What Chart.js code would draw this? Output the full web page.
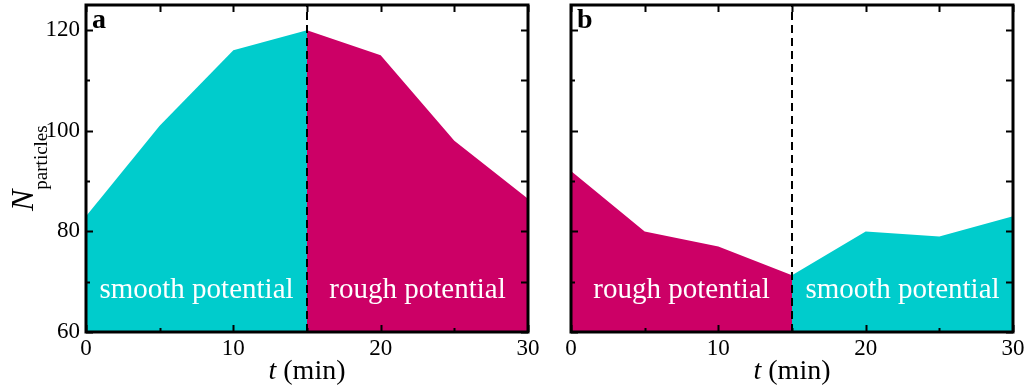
<!DOCTYPE html>
<html>
<head>
<meta charset="utf-8">
<script src="https://cdn.jsdelivr.net/npm/chart.js@4.4.1/dist/chart.umd.min.js"></script>
<style>
html, body { margin: 0; padding: 0; background: #fff; }
.panel { position: absolute; top: 0; height: 387px; }
#wrapA { left: 0; width: 540px; }
#wrapB { left: 540px; width: 489px; }
</style>
</head>
<body>
<div class="panel" id="wrapA"><canvas id="chartA"></canvas></div>
<div class="panel" id="wrapB"><canvas id="chartB"></canvas></div>
<script>
// particle counts sampled every 5 min, potential switched at t = 15
var times = [0, 5, 10, 15, 20, 25, 30];
var countsA = [83, 101, 116, 120, 115, 98, 86.5];
var countsB = [92, 80, 77, 71.3, 80, 79, 83];
var switchTime = 15;
var xTicks = [0, 10, 20, 30];
var yTicks = [60, 80, 100, 120];
var yRange = [60, 125];

var CYAN = '#00cccc';
var MAGENTA = '#cc0066';
var SERIF = '"Liberation Serif", "Times New Roman", serif';

function points(counts, from, to) {
    var out = [];
    for (var i = 0; i < times.length; i++) {
        if (times[i] >= from && times[i] <= to) out.push({x: times[i], y: counts[i]});
    }
    return out;
}

// frame, inward ticks, panel letter, region names and axis titles
var decorPlugin = {
    id: 'decor',
    afterDraw: function(chart) {
        var o = chart.options.plugins.decor;
        var ctx = chart.ctx, a = chart.chartArea;
        var xs = chart.scales.x, ys = chart.scales.y;
        var xm = xs.getPixelForValue(switchTime);
        ctx.save();

        ctx.fillStyle = '#fff';
        ctx.font = '29px ' + SERIF;
        ctx.textAlign = 'center';
        ctx.textBaseline = 'alphabetic';
        ctx.fillText(o.leftText, (a.left + xm) / 2, a.bottom - 34);
        ctx.fillText(o.rightText, (xm + a.right) / 2, a.bottom - 34);

        ctx.strokeStyle = '#000';
        ctx.lineWidth = 2;
        ctx.beginPath();
        for (var v = yRange[0]; v <= yRange[1]; v += 10) {
            var y = Math.round(ys.getPixelForValue(v)) + 0.5;
            var len = (v % 20 === 0) ? 7 : 4;
            ctx.moveTo(a.left, y); ctx.lineTo(a.left + len, y);
            ctx.moveTo(a.right, y); ctx.lineTo(a.right - 7, y);
        }
        for (var t = 0; t <= 30; t += 5) {
            var x = Math.round(xs.getPixelForValue(t)) + 0.5;
            var l = (t % 10 === 0) ? 7 : 4;
            ctx.moveTo(x, a.bottom); ctx.lineTo(x, a.bottom - l);
            ctx.moveTo(x, a.top); ctx.lineTo(x, a.top + 7);
        }
        ctx.stroke();

        ctx.lineWidth = 3;
        ctx.strokeRect(a.left, a.top, a.right - a.left, a.bottom - a.top);

        ctx.fillStyle = '#000';
        ctx.textAlign = 'left';
        ctx.font = 'bold 28px ' + SERIF;
        ctx.fillText(o.letter, a.left + 6, a.top + 23);

        // x title: italic t, upright (min)
        var cx = (a.left + a.right) / 2;
        ctx.font = 'italic 28px ' + SERIF;
        var w1 = ctx.measureText('t').width;
        ctx.font = '28px ' + SERIF;
        var w2 = ctx.measureText(' (min)').width;
        var sx = cx - (w1 + w2) / 2;
        ctx.font = 'italic 28px ' + SERIF;
        ctx.fillText('t', sx, 379);
        ctx.font = '28px ' + SERIF;
        ctx.fillText(' (min)', sx + w1, 379);

        if (o.yTitle) {
            ctx.translate(33, 211);
            ctx.rotate(-Math.PI / 2);
            ctx.font = 'italic 32px ' + SERIF;
            ctx.fillText('N', 0, 0);
            var wn = ctx.measureText('N').width;
            ctx.font = '19px ' + SERIF;
            ctx.fillText('particles', wn, 14);
        }
        ctx.restore();
    }
};

function makeChart(id, counts, firstColor, secondColor, decor, yWidth, rightPad) {
    var datasets = [
        {
            data: [{x: switchTime, y: yRange[0]}, {x: switchTime, y: yRange[1]}],
            borderColor: '#000', borderWidth: 2, borderDash: [8, 5],
            pointRadius: 0, fill: false, order: 0
        },
        {
            data: points(counts, 0, switchTime),
            backgroundColor: firstColor, borderWidth: 0,
            pointRadius: 0, fill: 'start', order: 1
        },
        {
            data: points(counts, switchTime, 30),
            backgroundColor: secondColor, borderWidth: 0,
            pointRadius: 0, fill: 'start', order: 2
        }
    ];
    return new Chart(document.getElementById(id), {
        type: 'line',
        data: {datasets: datasets},
        options: {
            responsive: true,
            maintainAspectRatio: false,
            animation: false,
            layout: {padding: {top: 5, right: rightPad, left: 0, bottom: 0}},
            plugins: {legend: {display: false}, tooltip: {enabled: false}, decor: decor},
            scales: {
                x: {
                    type: 'linear', min: 0, max: 30,
                    grid: {display: false, drawTicks: false}, border: {display: false},
                    afterBuildTicks: function(s) { s.ticks = xTicks.map(function(v) { return {value: v}; }); },
                    afterFit: function(s) { s.height = 55; s.paddingLeft = 0; s.paddingRight = 0; },
                    ticks: {padding: 3, color: '#000', maxRotation: 0, font: {family: SERIF, size: 23}}
                },
                y: {
                    type: 'linear', min: yRange[0], max: yRange[1],
                    grid: {display: false, drawTicks: false}, border: {display: false},
                    afterBuildTicks: function(s) { s.ticks = yTicks.map(function(v) { return {value: v}; }); },
                    afterFit: function(s) { s.width = yWidth; s.paddingTop = 0; s.paddingBottom = 0; },
                    ticks: {display: decor.yTitle, padding: 6, color: '#000', font: {family: SERIF, size: 23}}
                }
            }
        },
        plugins: [decorPlugin]
    });
}

makeChart('chartA', countsA, CYAN, MAGENTA,
    {letter: 'a', leftText: 'smooth potential', rightText: 'rough potential', yTitle: true}, 86, 12);
makeChart('chartB', countsB, MAGENTA, CYAN,
    {letter: 'b', leftText: 'rough potential', rightText: 'smooth potential', yTitle: false}, 31, 16);
</script>
</body>
</html>
